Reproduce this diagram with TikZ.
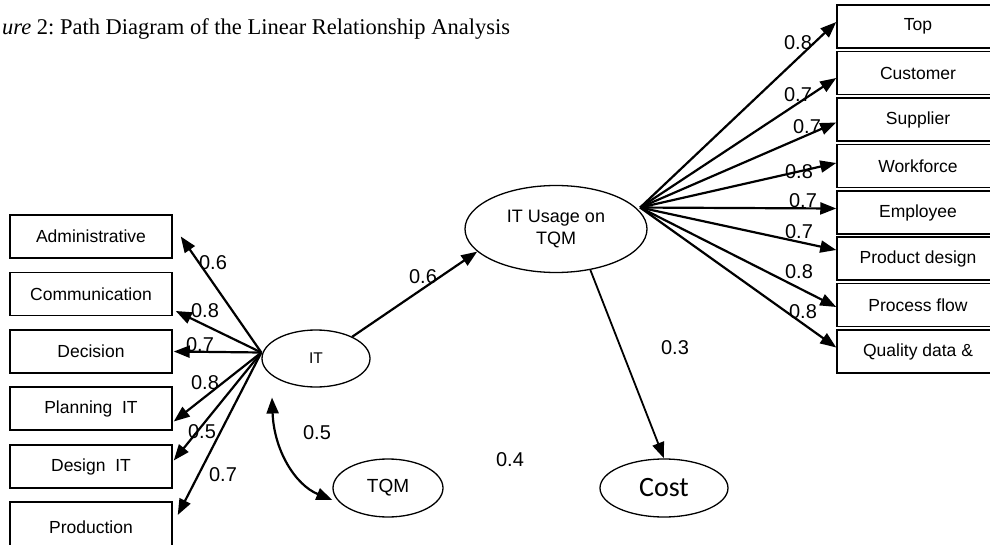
\documentclass[tikz,border=0pt]{standalone}
\usepackage{fontspec}
\setmainfont{Liberation Serif}
\newfontfamily\arialfont{Liberation Sans}
\newfontfamily\calibrifont{Carlito}
\usetikzlibrary{arrows.meta,shapes.geometric}
\frenchspacing

\begin{document}
\begin{tikzpicture}[x=1pt,y=-1pt,>={Triangle[length=16pt,width=12pt]},
  box/.style={draw,line width=1.5pt,minimum width=162pt,minimum height=43pt,inner sep=0pt,font=\arialfont\fontsize{17.5}{20}\selectfont},
  latent/.style={ellipse,draw,line width=1.3pt,inner sep=0pt,font=\arialfont\fontsize{18}{22}\selectfont},
  coef/.style={inner sep=0pt,font=\arialfont\fontsize{20}{22}\selectfont},
  loading/.style={->,line width=2.2pt}]
\clip (0,0) rectangle (990,545);
\node[anchor=base west,inner sep=0pt,font=\fontsize{22.5}{26}\selectfont] (title) at (2,35) {\textit{ure} 2: Path Diagram of the Linear Relationship Analysis};
% latent variables
\node[latent,minimum width=108pt,minimum height=57pt,font=\arialfont\fontsize{15.5}{18}\selectfont] (IT) at (316,358.5) {IT};
\node[latent,minimum width=182pt,minimum height=87pt,align=center] (usage) at (556,229) {IT Usage on\\TQM};
\node[latent,minimum width=110pt,minimum height=58pt,font=\arialfont\fontsize{19}{22}\selectfont] (TQM) at (388,488) {TQM};
\node[latent,minimum width=128pt,minimum height=58pt,font=\calibrifont\fontsize{28}{32}\selectfont] (cost) at (664,488) {Cost};
% IT indicators
\node[box] (admin) at (91,236.5) {Administrative};
\node[box] (comm) at (91,294) {Communication};
\node[box] (dec) at (91,351.5) {Decision};
\node[box] (plan) at (91,408.5) {Planning\ \ IT};
\node[box] (desg) at (91,466.5) {Design\ \ IT};
\node[box,minimum height=50pt] (prod) at (91,527) {Production};
% TQM indicators
\node[box] (top) at (918,26.5) {Top};
\node[box] (cust) at (918,73) {Customer};
\node[box] (supp) at (918,119.5) {Supplier};
\node[box] (work) at (918,166) {Workforce};
\node[box] (empl) at (918,212.5) {Employee};
\node[box] (prdd) at (918,258.5) {Product design};
\node[box] (proc) at (918,305) {Process flow};
\node[box] (qual) at (918,351.5) {Quality data \&};
\coordinate (itfan) at ([yshift=6pt]IT.west);
\coordinate (usefan) at ([xshift=4pt]usage.15);
\draw[loading] (itfan) -- ([xshift=8pt]admin.east);
\draw[loading] (itfan) -- ([xshift=3pt,yshift=-17pt]comm.east);
\draw[loading] (itfan) -- ([xshift=1pt]dec.east);
\draw[loading] (itfan) -- ([xshift=1pt,yshift=-13pt]plan.east);
\draw[loading] (itfan) -- ([xshift=1pt,yshift=6pt]desg.east);
\draw[loading] (itfan) -- ([xshift=5pt,yshift=12pt]prod.east);
\draw[loading] (usefan) -- ([yshift=4.5pt]top.west);
\draw[loading] (usefan) -- ([yshift=-5pt]cust.west);
\draw[loading] (usefan) -- ([yshift=-3pt]supp.west);
\draw[loading] (usefan) -- ([yshift=3pt]work.west);
\draw[loading] (usefan) -- ([yshift=4pt]empl.west);
\draw[loading] (usefan) -- ([yshift=8.5pt]prdd.west);
\draw[loading] (usefan) -- ([yshift=-2pt]proc.west);
\draw[loading] (usefan) -- ([yshift=4pt]qual.west);
\draw[loading] (IT.31) -- (usage.196);
\draw[loading,line width=1.8pt] (usage.-50) -- (cost.north);
\draw[<->,line width=2.2pt] ([xshift=-44pt,yshift=-39pt]IT.center) .. controls +(2,53) and +(-37,-15) .. ([yshift=-12pt]TQM.west);
% coefficients
\node[coef] (c1) at (213,263) {0.6};
\node[coef] (c2) at (205,311) {0.8};
\node[coef] (c3) at (200,345) {0.7};
\node[coef] (c4) at (205,383) {0.8};
\node[coef] (c5) at (202,432) {0.5};
\node[coef] (c6) at (223,475) {0.7};
\node[coef] (c7) at (423,277) {0.6};
\node[coef] (c8) at (317,433) {0.5};
\node[coef] (c9) at (510,460) {0.4};
\node[coef] (c10) at (675,348) {0.3};
\node[coef] (r1) at (798,43) {0.8};
\node[coef] (r2) at (798,95) {0.7};
\node[coef] (r3) at (807,127) {0.7};
\node[coef] (r4) at (799,172) {0.8};
\node[coef] (r5) at (803,201) {0.7};
\node[coef] (r6) at (799,232) {0.7};
\node[coef] (r7) at (799,272) {0.8};
\node[coef] (r8) at (803,312) {0.8};
\end{tikzpicture}
\end{document}
